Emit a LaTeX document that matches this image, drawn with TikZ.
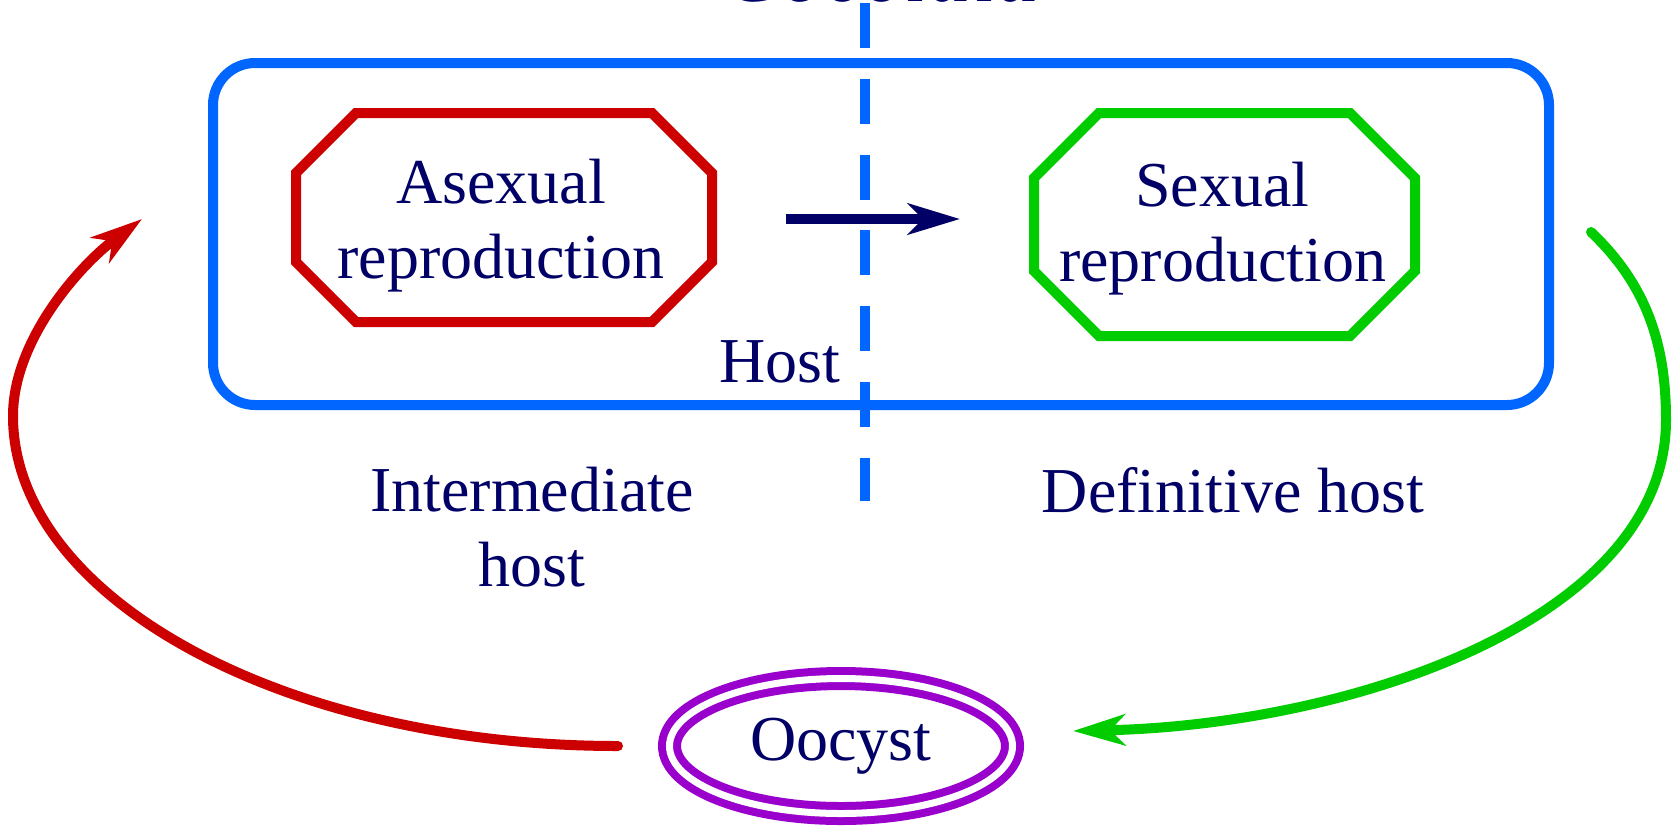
\documentclass[tikz,border=0pt]{standalone}
\usepackage{fontspec}
\setmainfont{Liberation Serif}
\usetikzlibrary{arrows.meta,shapes.geometric,calc}
\definecolor{navy}{RGB}{0,0,102}
\definecolor{cblue}{RGB}{0,102,255}
\definecolor{cred}{RGB}{204,0,0}
\definecolor{cgreen}{RGB}{0,204,0}
\definecolor{cviolet}{RGB}{153,0,204}
\newcommand\octopath[3]{%
  \draw[#3, line width=5pt, line join=miter]
    ($(#1.north west)+(#2,0)$) -- ($(#1.north east)+(-#2,0)$) --
    ($(#1.north east)+(0,#2)$) -- ($(#1.south east)+(0,-#2)$) --
    ($(#1.south east)+(-#2,0)$) -- ($(#1.south west)+(#2,0)$) --
    ($(#1.south west)+(0,-#2)$) -- ($(#1.north west)+(0,#2)$) -- cycle;}
\begin{document}
\begin{tikzpicture}[x=0.5pt,y=-0.5pt,
  lbl/.style={text=navy,font=\fontsize{32}{37.5}\selectfont,align=center,inner sep=0pt,outer sep=0pt},
  frame/.style={inner sep=0pt,outer sep=0pt},
  tipst/.style={-{Stealth[length=26pt,width=15.5pt,inset=7.5pt]}},
  curve/.style={line width=5pt,line cap=round,tipst}]
\clip (0,0) rectangle (1672,827);
% title (cut off at top)
\node[text=navy,font=\fontsize{44}{50}\selectfont\itshape,anchor=base] (title) at (882,1) {Coccidia};
% host box
\node[draw=cblue,line width=5pt,rounded corners=21pt,minimum width=668pt,minimum height=171pt,inner sep=0pt] (hostbox) at (881,234) {};
% dashed divider
\coordinate (dtop) at (865,3);
\coordinate (dbot) at (865,501);
\draw[cblue,line width=5pt,dash pattern=on 22.5pt off 15.4pt] (dtop) -- (dbot);
% reproduction nodes
\node[frame,minimum width=208pt,minimum height=104.5pt] (asex) at (504,217.5) {};
\octopath{asex}{60}{cred}
\node[lbl] (asextxt) at ($(asex.center)+(-3,8)$) {Asexual\\reproduction};
\node[frame,minimum width=190.5pt,minimum height=111.5pt] (sex) at (1224.5,224.5) {};
\octopath{sex}{65}{cgreen}
\node[lbl] (sextxt) at ($(sex.center)+(-2,4)$) {Sexual\\reproduction};
% arrow between
\coordinate (as) at (786,219);
\coordinate (ae) at (960,219);
\draw[navy,line width=5pt,tipst] (as) -- (ae);
% labels
\node[lbl,anchor=base] (hostlbl) at (780,382) {Host};
\node[lbl,anchor=base] (inter) at (532,586) {Intermediate\\host};
\node[lbl,anchor=base] (defin) at (1233,512) {Definitive host};
% oocyst
\node[ellipse,draw=cviolet,double=white,line width=4pt,double distance=3.5pt,minimum width=171.5pt,minimum height=67.5pt,inner sep=0pt,text=navy,font=\fontsize{32}{37.5}\selectfont] (oo) at (841,746) {Oocyst};
% cycle arrows
\coordinate (rs) at (618,746);
\coordinate (re) at (142,219);
\draw[cred,curve] (rs) .. controls (284,746) and (13,598) .. (13,416) .. controls (13,340) and (80,265) .. (re);
\coordinate (gs) at (1591,232);
\coordinate (ge) at (1073,731);
\draw[cgreen,curve] (gs) .. controls (1650,288) and (1666,350) .. (1666,420) .. controls (1666,620) and (1350,725) .. (ge);
\end{tikzpicture}
\end{document}
